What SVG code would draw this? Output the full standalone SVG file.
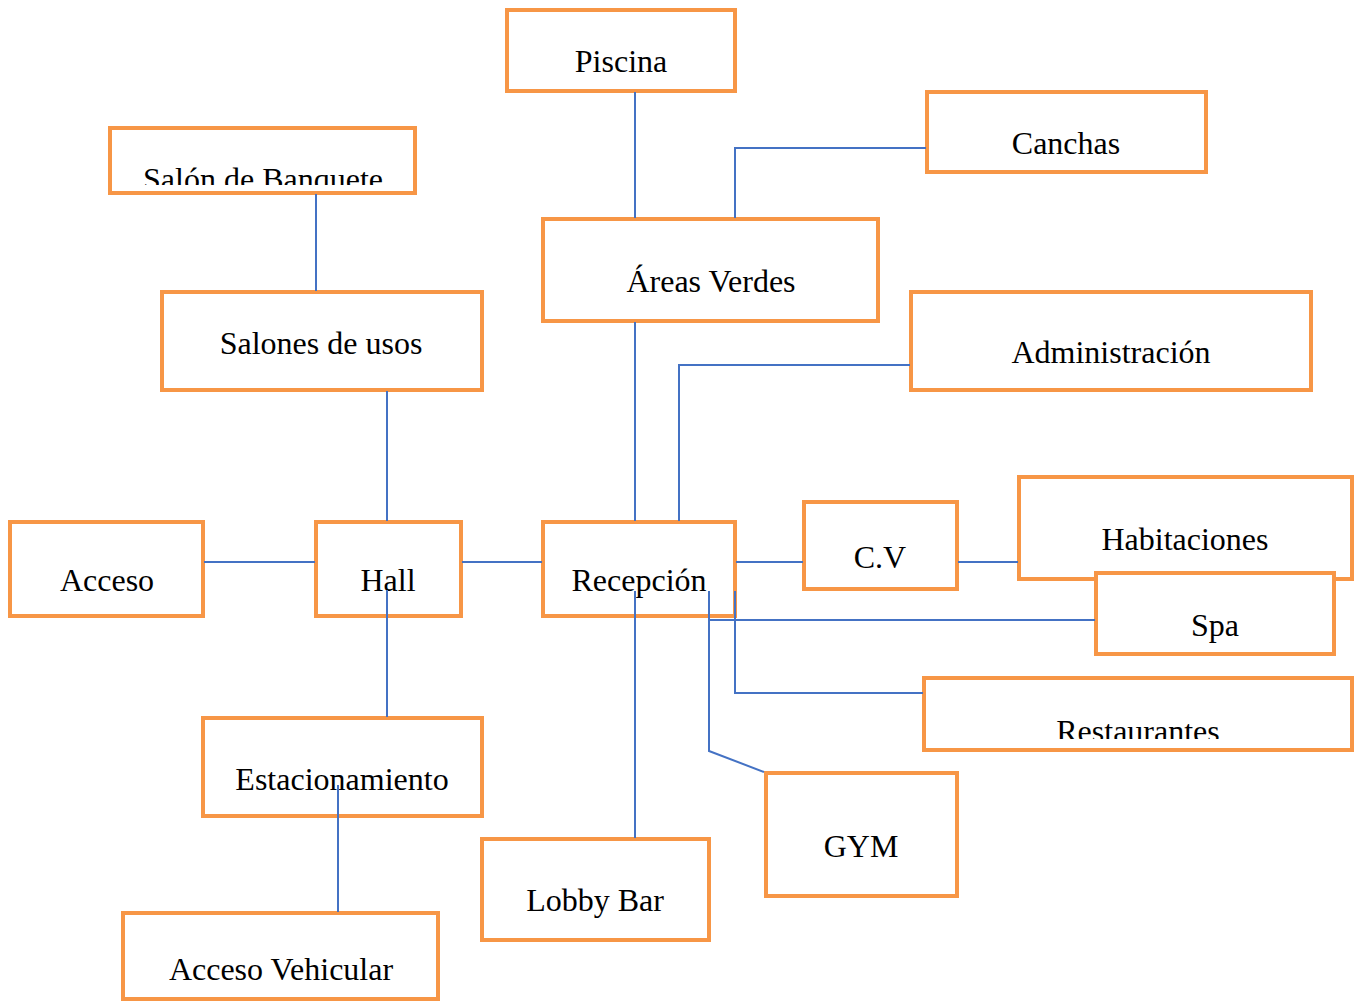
<svg xmlns="http://www.w3.org/2000/svg" width="1356" height="1003" viewBox="0 0 1356 1003">
<style>
.box{fill:#fff;stroke:#F79646;stroke-width:4}
.t{font-family:"Liberation Serif","Times New Roman",serif;font-size:32px;fill:#000;text-anchor:middle}
.c{fill:none;stroke:#4472C4;stroke-width:2}
</style>
<defs>
<clipPath id="cb"><rect x="111" y="129" width="303" height="56"/></clipPath>
<clipPath id="cr"><rect x="925" y="679" width="426" height="60"/></clipPath>
</defs>
<rect width="1356" height="1003" fill="#fff"/>
<g id="piscina"><rect class="box" x="507" y="10" width="228" height="81"/><text class="t" x="621" y="72">Piscina</text></g>
<g id="canchas"><rect class="box" x="927" y="92" width="279" height="80"/><text class="t" x="1066" y="154">Canchas</text></g>
<g id="salon-banquete"><rect class="box" x="110" y="128" width="305" height="65"/><text class="t" x="263" y="190" clip-path="url(#cb)">Salón de Banquete</text></g>
<g id="areas-verdes"><rect class="box" x="543" y="219" width="335" height="102"/><text class="t" x="711" y="292">Áreas Verdes</text></g>
<g id="salones-usos"><rect class="box" x="162" y="292" width="320" height="98"/><text class="t" x="321" y="354">Salones de usos</text></g>
<g id="administracion"><rect class="box" x="911" y="292" width="400" height="98"/><text class="t" x="1111" y="363">Administración</text></g>
<g id="acceso"><rect class="box" x="10" y="522" width="193" height="94"/><text class="t" x="107" y="591">Acceso</text></g>
<g id="hall"><rect class="box" x="316" y="522" width="145" height="94"/><text class="t" x="388" y="591">Hall</text></g>
<g id="recepcion"><rect class="box" x="543" y="522" width="192" height="94"/><text class="t" x="639" y="591">Recepción</text></g>
<g id="cv"><rect class="box" x="804" y="502" width="153" height="87"/><text class="t" x="880" y="568">C.V</text></g>
<g id="habitaciones"><rect class="box" x="1019" y="477" width="333" height="102"/><text class="t" x="1185" y="550">Habitaciones</text></g>
<g id="spa"><rect class="box" x="1096" y="573" width="238" height="81"/><text class="t" x="1215" y="636">Spa</text></g>
<g id="restaurantes"><rect class="box" x="924" y="678" width="428" height="72"/><text class="t" x="1138" y="742" clip-path="url(#cr)">Restaurantes</text></g>
<g id="estacionamiento"><rect class="box" x="203" y="718" width="279" height="98"/><text class="t" x="342" y="790">Estacionamiento</text></g>
<g id="gym"><rect class="box" x="766" y="773" width="191" height="123"/><text class="t" x="861" y="857">GYM</text></g>
<g id="lobby-bar"><rect class="box" x="482" y="839" width="227" height="101"/><text class="t" x="595" y="911">Lobby Bar</text></g>
<g id="acceso-vehicular"><rect class="box" x="123" y="913" width="315" height="86"/><text class="t" x="281" y="980">Acceso Vehicular</text></g>
<g id="connectors">
<path class="c" d="M635 92V218"/>
<path class="c" d="M735 218V148H926"/>
<path class="c" d="M316 194V291"/>
<path class="c" d="M387 391V521"/>
<path class="c" d="M635 322V521"/>
<path class="c" d="M679 521V365H910"/>
<path class="c" d="M204 562H315"/>
<path class="c" d="M462 562H542"/>
<path class="c" d="M736 562H803"/>
<path class="c" d="M958 562H1018"/>
<path class="c" d="M387 590V717"/>
<path class="c" d="M338 785V912"/>
<path class="c" d="M635 591V838"/>
<path class="c" d="M709 591V751L764 772"/>
<path class="c" d="M709 620H1095"/>
<path class="c" d="M735 591V693H923"/>
</g>
</svg>
